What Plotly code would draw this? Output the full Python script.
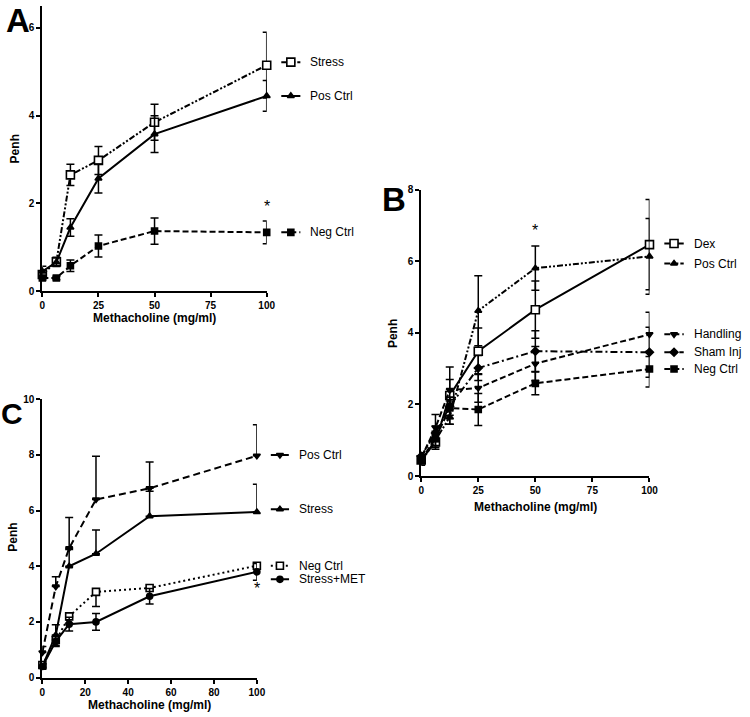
import plotly.graph_objects as go

W, H = 750, 717
FONT = "Liberation Sans"

dose = [0, 6.25, 12.5, 25, 50, 100]

# ---------------- Panel A ----------------
a_names = ["Stress", "Pos Ctrl", "Neg Ctrl"]
a_stress = [0.38, 0.67, 2.65, 2.98, 3.85, 5.15]
a_stress_err = [0.1, 0.1, 0.24, 0.32, 0.41, 0.75]
a_pos = [0.45, 0.66, 1.45, 2.57, 3.58, 4.45]
a_pos_err = [0.12, 0.1, 0.2, 0.33, 0.42, 0.35]
a_neg = [0.3, 0.3, 0.58, 1.03, 1.37, 1.34]
a_neg_err = [0.05, 0.04, 0.13, 0.25, 0.3, 0.26]

# ---------------- Panel B ----------------
b_names = ["Dex", "Pos Ctrl", "Handling", "Sham Inj", "Neg Ctrl"]
b_dex = [0.45, 0.95, 2.25, 3.49, 4.65, 6.47]
b_dex_err = [0.1, 0.2, 0.8, 0.65, 0.8, 1.26]
b_pos = [0.4, 1.0, 1.65, 4.62, 5.81, 6.14]
b_pos_err = [0.1, 0.2, 0.2, 0.98, 0.62, 1.06]
b_hand = [0.5, 1.35, 2.4, 2.46, 3.14, 3.96]
b_hand_err = [0.1, 0.37, 0.3, 0.4, 0.48, 0.62]
b_sham = [0.55, 1.2, 1.95, 3.02, 3.49, 3.46]
b_sham_err = [0.1, 0.2, 0.25, 0.35, 0.57, 0.7]
b_neg = [0.45, 1.05, 1.9, 1.86, 2.59, 2.99]
b_neg_err = [0.1, 0.2, 0.3, 0.45, 0.32, 0.5]

# ---------------- Panel C ----------------
c_names = ["Pos Ctrl", "Stress", "Neg Ctrl", "Stress+MET"]
c_pos = [0.9, 3.27, 4.65, 6.4, 6.8, 7.97]
c_pos_err_up = [0.22, 0.35, 1.1, 1.55, 0.95, 1.12]
c_stress = [0.4, 1.53, 4.0, 4.45, 5.8, 5.95]
c_stress_err_up = [0.1, 0.37, 0.6, 0.85, 0.9, 1.0]
c_neg = [0.45, 1.35, 2.2, 3.08, 3.22, 4.02]
c_neg_err_down = [0.1, 0.2, 0.25, 0.53, 0.0, 0.0]
c_met = [0.4, 1.3, 1.92, 2.0, 2.92, 3.8]
c_met_err = [0.1, 0.18, 0.25, 0.3, 0.28, 0.3]

# ---------------- layout geometry (pixels) ----------------
def px_x(p):
    return p / W

def px_y(p):
    return 1 - p / H

panels = {
    "A": dict(x=(40, 268), y=(290, 0), xr=[0, 100], yr=[0, 6.5], yt=[0, 2, 4, 6], xt=[0, 25, 50, 75, 100]),
    "B": dict(x=(425, 657), y=(478, 187), xr=[0, 100], yr=[0, 8], yt=[0, 2, 4, 6, 8], xt=[0, 25, 50, 75, 100]),
    "C": dict(x=(40, 258), y=(683, 400), xr=[0, 100], yr=[0, 10], yt=[0, 2, 4, 6, 8, 10], xt=[0, 20, 40, 60, 80, 100]),
}
axis_ids = {"A": ("x", "y", "x4"), "B": ("x2", "y2", "x5"), "C": ("x3", "y3", "x6")}

fig = go.Figure()

LW = 2


def marker_style(symbol, size, hollow):
    return dict(symbol=symbol, size=size, color="white" if hollow else "black",
                line=dict(color="black", width=1.6))


def add_series(panel, name, y, err=None, err_minus=None, symmetric=True, dash="solid",
               symbol="square", size=7, hollow=False, legend_y=None, lw=LW):
    xa, ya, xl = axis_ids[panel]
    ey = None
    if err is not None or err_minus is not None:
        if symmetric:
            ey = dict(type="data", array=err, visible=True, color="black", thickness=1.5, width=4)
        else:
            ey = dict(type="data", symmetric=False,
                      array=err if err is not None else [0] * len(y),
                      arrayminus=err_minus if err_minus is not None else [0] * len(y),
                      visible=True, color="black", thickness=1.5, width=4)
    fig.add_trace(go.Scatter(
        x=dose, y=y, mode="lines+markers", name=name, showlegend=False,
        xaxis=xa, yaxis=ya, cliponaxis=False,
        line=dict(color="black", width=lw, dash=dash),
        marker=marker_style(symbol, size, hollow),
        error_y=ey,
    ))
    # legend sample (on an invisible extended x axis sharing the panel's y scale)
    ly = y[-1] if legend_y is None else legend_y
    fig.add_trace(go.Scatter(
        x=[106.5, 110.75, 115], y=[ly, ly, ly], mode="lines", showlegend=False,
        xaxis=xl, yaxis=ya, line=dict(color="black", width=lw, dash=dash), hoverinfo="skip",
    ))
    fig.add_trace(go.Scatter(
        x=[110.75], y=[ly], mode="markers", showlegend=False, cliponaxis=False,
        xaxis=xl, yaxis=ya, hoverinfo="skip",
        marker=marker_style(symbol, size, hollow),
    ))
    fig.add_annotation(x=118.5, y=ly, xref=xl, yref=ya, text=name, showarrow=False,
                       xanchor="left", yanchor="middle",
                       font=dict(family=FONT, size=12, color="black"))


DASHDOTDOT = "6px,2px,2px,2px,2px,2px"
DASH = "6px,3px"
DASHDOT = "7px,3px,2px,3px"

# Panel A
add_series("A", a_names[0], a_stress, a_stress_err, dash=DASHDOTDOT, symbol="square", size=8,
           hollow=True, legend_y=a_stress[-1] + 0.07)
add_series("A", a_names[1], a_pos, a_pos_err, dash="solid", symbol="triangle-up", size=6)
add_series("A", a_names[2], a_neg, a_neg_err, dash=DASH, symbol="square", size=6)

# Panel B
add_series("B", b_names[0], b_dex, b_dex_err, dash="solid", symbol="square", size=8, hollow=True,
           legend_y=b_dex[-1] + 0.03)
add_series("B", b_names[1], b_pos, b_pos_err, dash=DASHDOTDOT, symbol="triangle-up", size=6,
           legend_y=b_pos[-1] - 0.2)
add_series("B", b_names[2], b_hand, b_hand_err, dash=DASH, symbol="triangle-down", size=6)
add_series("B", b_names[3], b_sham, b_sham_err, dash=DASHDOT, symbol="diamond", size=6)
add_series("B", b_names[4], b_neg, b_neg_err, dash=DASH, symbol="square", size=6)

# Panel C
add_series("C", c_names[0], c_pos, err=c_pos_err_up, symmetric=False, dash="7px,4px",
           symbol="triangle-down", size=6, legend_y=c_pos[-1] + 0.03)
add_series("C", c_names[1], c_stress, err=c_stress_err_up, symmetric=False, dash="solid",
           symbol="triangle-up", size=6, legend_y=c_stress[-1] + 0.1)
add_series("C", c_names[2], c_neg, err_minus=c_neg_err_down, symmetric=False, dash="2px,3px",
           symbol="square", size=7, hollow=True)
add_series("C", c_names[3], c_met, c_met_err, dash="solid", symbol="circle", size=6,
           legend_y=c_met[-1] - 0.27)

# asterisks
star_font = dict(family=FONT, size=16, color="black")
fig.add_annotation(x=100, y=a_neg[-1] + 0.6, xref="x", yref="y", text="*", showarrow=False,
                   font=star_font, yanchor="middle")
fig.add_annotation(x=50, y=b_pos[4] + 1.05, xref="x2", yref="y2", text="*", showarrow=False,
                   font=star_font, yanchor="middle")
fig.add_annotation(x=100, y=b_dex[-1] + 1.75, xref="x2", yref="y2", text="*", showarrow=False,
                   font=star_font, yanchor="middle")
fig.add_annotation(x=100, y=c_met[-1] - 0.6, xref="x3", yref="y3", text="*", showarrow=False,
                   font=star_font, yanchor="middle")

tickfont = dict(family=FONT, size=10, color="black", weight="bold")


def axis_common():
    return dict(showline=True, linecolor="black", linewidth=2, ticks="outside", ticklen=4,
                tickwidth=2, tickcolor="black", showgrid=False, zeroline=False,
                tickfont=tickfont, fixedrange=True)


layout = dict(width=W, height=H, margin=dict(l=0, r=0, t=0, b=0),
              paper_bgcolor="white", plot_bgcolor="rgba(0,0,0,0)", showlegend=False)

for key in ["A", "B", "C"]:
    p = panels[key]
    xa, ya, xl = axis_ids[key]
    xname = "xaxis" + xa[1:]
    yname = "yaxis" + ya[1:]
    lname = "xaxis" + xl[1:]
    d0, d1 = px_x(p["x"][0]), px_x(p["x"][1])
    layout[xname] = dict(axis_common(), domain=[d0, d1], range=p["xr"], tickvals=p["xt"],
                         anchor=ya)
    layout[yname] = dict(axis_common(), domain=[px_y(p["y"][0]), px_y(p["y"][1])], range=p["yr"],
                         tickvals=p["yt"], anchor=xa)
    layout[lname] = dict(domain=[d0, d0 + (d1 - d0) * 1.3], range=[0, 130], visible=False,
                         anchor=ya, fixedrange=True)

fig.update_layout(**layout)

# axis titles
title_font = dict(family=FONT, size=12, color="black", weight="bold")
for key, (tx, ty) in {"A": (154, 317), "B": (541, 510), "C": (149, 711)}.items():
    fig.add_annotation(x=px_x(tx), y=px_y(ty), xref="paper", yref="paper",
                       text="Methacholine (mg/ml)", showarrow=False, font=title_font,
                       xanchor="center", yanchor="middle")
for key, (tx, ty) in {"A": (12, 145), "B": (397, 333), "C": (10, 540)}.items():
    fig.add_annotation(x=px_x(tx), y=px_y(ty), xref="paper", yref="paper", text="Penh",
                       textangle=-90, showarrow=False, font=title_font,
                       xanchor="center", yanchor="middle")

# panel letters
letter_font = dict(family=FONT, size=33, color="black", weight="bold")
for key, (tx, ty, sz) in {"A": (15, 15, 33), "B": (397, 197, 33), "C": (9, 414, 30)}.items():
    fig.add_annotation(x=px_x(tx), y=px_y(ty), xref="paper", yref="paper", text=key,
                       showarrow=False, font=dict(letter_font, size=sz),
                       xanchor="center", yanchor="middle")

fig.write_html("out.html", config={"displayModeBar": False},
               post_script="document.body.style.margin='0';document.body.style.overflow='hidden';")
